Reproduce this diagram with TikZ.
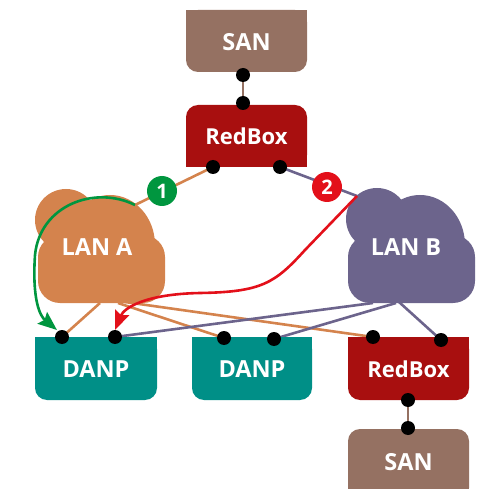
\documentclass[tikz,border=0pt]{standalone}
\usepackage{fontspec}
\setmainfont{Open Sans}
\usetikzlibrary{arrows.meta}
\definecolor{sanbrown}{HTML}{957162}
\definecolor{redboxred}{HTML}{A80F0F}
\definecolor{danpteal}{HTML}{008F87}
\definecolor{lanaorange}{HTML}{D4834D}
\definecolor{lanbpurple}{HTML}{6C648C}
\definecolor{pathgreen}{HTML}{00963F}
\definecolor{pathred}{HTML}{E3101A}
\tikzset{
  port/.style={circle,fill=black,inner sep=0pt,minimum size=14pt},
  lbl/.style={text=white,anchor=base,inner sep=0pt,
    font=\bfseries\fontsize{23.5}{24}\selectfont},
  rblbl/.style={lbl,font=\bfseries\fontsize{22}{24}\selectfont},
  badge/.style={circle,inner sep=0pt,minimum size=30pt,text=white,
    font=\bfseries\fontsize{20}{20}\selectfont},
  link/.style={line width=2.6pt},
  flow/.style={line width=2.6pt,-{Stealth[length=19pt,width=15pt,inset=3pt]}},
}
\begin{document}
\begin{tikzpicture}[x=1pt,y=-1pt]
	\useasboundingbox (0,0) rectangle (490,489);
	% port positions
	\coordinate (san1-p) at (243,75);
	\coordinate (rb1-up) at (243,103);
	\coordinate (rb1-a) at (213,167);
	\coordinate (rb1-b) at (280,167);
	\coordinate (danp1-a) at (62,337);
	\coordinate (danp1-b) at (115,337);
	\coordinate (danp2-a) at (224,338);
	\coordinate (danp2-b) at (274,339);
	\coordinate (rb2-a) at (373,337);
	\coordinate (rb2-b) at (441,340);
	\coordinate (rb2-dn) at (408,400);
	\coordinate (san2-p) at (408,428);
	% points on the clouds
	\coordinate (lana-top) at (135,205);
	\coordinate (lana-s1) at (100,303);
	\coordinate (lana-s2) at (118,303);
	\coordinate (lana-s3) at (125,302);
	\coordinate (lanb-top) at (357,196);
	\coordinate (lanb-s1) at (373,303);
	\coordinate (lanb-s2) at (396,303);
	\coordinate (lanb-s3) at (399,302);
	% links
	\draw[link,sanbrown] (san1-p) -- (rb1-up)
	  (rb2-dn) -- (san2-p);
	\draw[link,lanaorange] (rb1-a) -- (lana-top)
	  (lana-s1) -- (danp1-a)
	  (lana-s2) -- (danp2-a)
	  (lana-s3) -- (rb2-a);
	\draw[link,lanbpurple] (rb1-b) -- (lanb-top)
	  (lanb-s1) -- (danp1-b)
	  (lanb-s2) -- (danp2-b)
	  (lanb-s3) -- (rb2-b);
	% clouds
	\fill[lanaorange] (66,220) circle[radius=31]
	  (110,245) ellipse[x radius=45,y radius=50]
	  (138,266) circle[radius=27];
	\fill[lanaorange,rounded corners=22] (38,235) rectangle (165,303);
	\fill[lanbpurple] (377,219) circle[radius=31]
	  (420,245) ellipse[x radius=45,y radius=50]
	  (448,266) circle[radius=27];
	\fill[lanbpurple,rounded corners=22] (348,235) rectangle (475,303);
	% boxes
	\fill[sanbrown,rounded corners=12] (186,10) rectangle (307,72);
	\fill[sanbrown] (186,10) rectangle (307,40);
	\fill[redboxred,rounded corners=12] (186,105) rectangle (307,167);
	\fill[redboxred] (186,140) rectangle (307,167);
	\fill[danpteal,rounded corners=12] (35,337) rectangle (157,400);
	\fill[danpteal] (35,337) rectangle (157,370);
	\fill[danpteal,rounded corners=12] (192,337) rectangle (312,400);
	\fill[danpteal] (192,337) rectangle (312,370);
	\fill[redboxred,rounded corners=12] (348,337) rectangle (469,400);
	\fill[redboxred] (348,337) rectangle (469,370);
	\fill[sanbrown,rounded corners=12] (348,429) rectangle (469,500);
	\fill[sanbrown] (348,460) rectangle (469,489);
	% texts
	\node[lbl] (san1) at (246.5,51) {SAN};
	\node[rblbl] (rb1) at (246.5,145) {RedBox};
	\node[lbl] (lana) at (97,255) {LAN A};
	\node[lbl] (lanb) at (406,255) {LAN B};
	\node[lbl] (danp1) at (96,377) {DANP};
	\node[lbl] (danp2) at (252,377) {DANP};
	\node[rblbl] (rb2) at (408.5,377) {RedBox};
	\node[lbl] (san2) at (408.5,470) {SAN};
	% ports
	\foreach \p in {san1-p,rb1-up,rb1-a,rb1-b,danp1-a,danp1-b,danp2-a,
	  danp2-b,rb2-a,rb2-b,rb2-dn,san2-p}
	  \node[port] (\p-dot) at (\p) {};
	% paths 1 and 2
	\node[badge,fill=pathgreen] (one) at (162,191) {1};
	\node[badge,fill=pathred] (two) at (327,187) {2};
	\coordinate (green-end) at (57,330);
	\coordinate (red-end) at (115,330);
	\draw[flow,pathgreen] (lana-top)
	  .. controls (95,185) and (40,205) .. (35,255)
	  .. controls (32,300) and (40,316) .. (green-end);
	\draw[flow,pathred] (lanb-top) -- (305,250)
	  .. controls (275,283) and (262,292) .. (200,293)
	  .. controls (145,294) and (124,308) .. (red-end);
\end{tikzpicture}
\end{document}
